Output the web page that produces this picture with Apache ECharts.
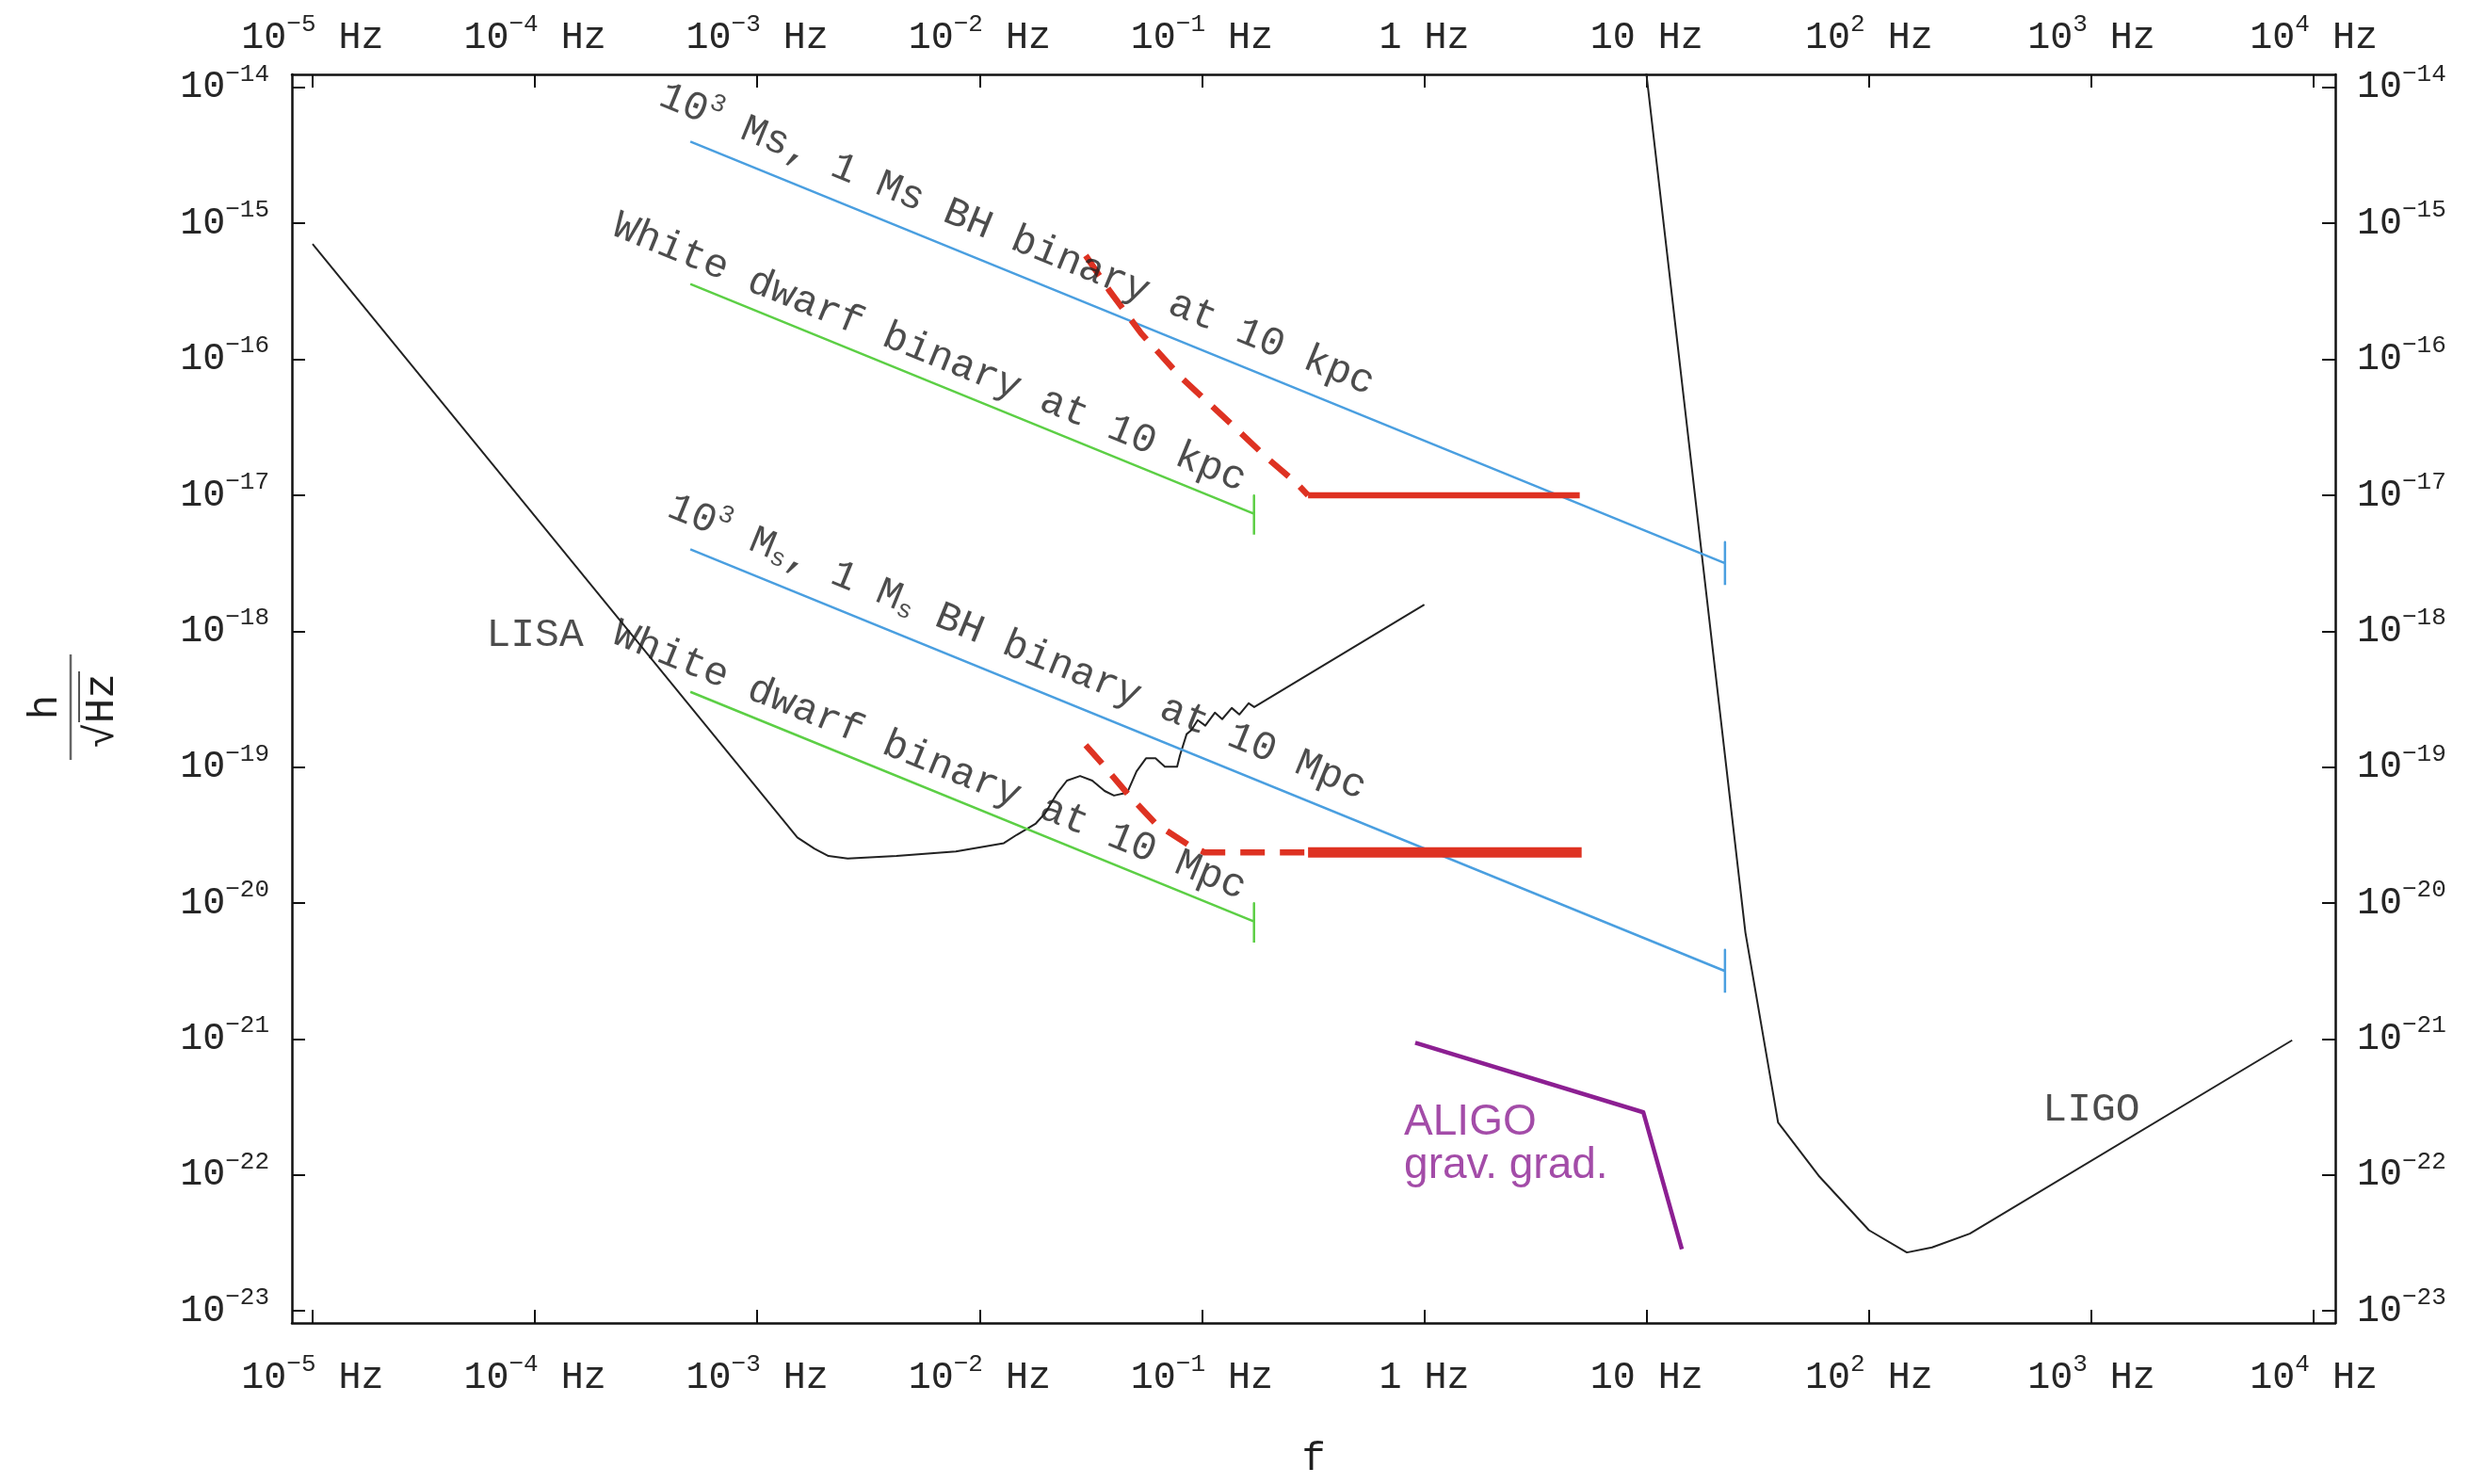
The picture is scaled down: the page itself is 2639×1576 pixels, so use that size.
<!DOCTYPE html>
<html>
<head>
<meta charset="utf-8">
<script src="https://cdn.jsdelivr.net/npm/echarts@6/dist/echarts.min.js"></script>
<style>
html,body{margin:0;padding:0;background:#ffffff;}
#chart{width:2639px;height:1576px;}
</style>
</head>
<body>
<div id="chart"></div>
<script>
// ---------------- DATA (frequency f in Hz, strain h/sqrt(Hz)) ----------------
const lisaCurve = [
  [1.0e-5, 7.06e-16], [1.514e-3, 3.04e-20], [1.81e-3, 2.51e-20], [2.09e-3, 2.22e-20],
  [2.55e-3, 2.13e-20], [4.23e-3, 2.22e-20], [7.82e-3, 2.40e-20], [1.285e-2, 2.76e-20],
  [1.47e-2, 3.18e-20], [1.79e-2, 3.85e-20], [1.97e-2, 4.58e-20], [2.24e-2, 6.49e-20],
  [2.47e-2, 7.96e-20], [2.83e-2, 8.61e-20], [3.21e-2, 7.96e-20], [3.65e-2, 6.68e-20],
  [4.02e-2, 6.18e-20], [4.61e-2, 6.49e-20], [5.08e-2, 9.31e-20], [5.60e-2, 1.161e-19],
  [6.18e-2, 1.161e-19], [6.81e-2, 1.007e-19], [7.73e-2, 1.007e-19], [7.96e-2, 1.219e-19],
  [8.53e-2, 1.750e-19], [8.95e-2, 1.866e-19], [9.57e-2, 2.218e-19], [0.1035, 2.018e-19],
  [0.1143, 2.518e-19], [0.1233, 2.254e-19], [0.1361, 2.723e-19], [0.1472, 2.438e-19],
  [0.1622, 2.951e-19], [0.1718, 2.767e-19], [1.0, 1.570e-18]
];
const ligoCurve = [
  [9.66, 1.97e-14], [27.8, 6.07e-21], [39.0, 2.43e-22], [59.3, 9.89e-23], [100, 3.92e-23],
  [148, 2.69e-23], [192, 2.93e-23], [284, 3.70e-23], [8000, 9.79e-22]
];
const aligoGravGrad = [[0.91, 9.4e-22], [9.66, 2.89e-22], [14.4, 2.84e-23]];

const bhBinary10kpc = [[5e-4, 4.0e-15], [22.5, 3.16e-18]];
const bhBinary10kpcCap = [[22.5, 4.52e-18], [22.5, 2.19e-18]];
const bhBinary10Mpc = [[5e-4, 4.0e-18], [22.5, 3.16e-21]];
const bhBinary10MpcCap = [[22.5, 4.52e-21], [22.5, 2.19e-21]];
const wdBinary10kpc = [[5e-4, 3.58e-16], [0.1714, 7.31e-18]];
const wdBinary10kpcCap = [[0.1714, 9.95e-18], [0.1714, 5.13e-18]];
const wdBinary10Mpc = [[5e-4, 3.58e-19], [0.1714, 7.31e-21]];
const wdBinary10MpcCap = [[0.1714, 9.95e-21], [0.1714, 5.13e-21]];

const redDashed10kpc = [[0.030, 5.8e-16], [0.0383, 3.21e-16], [0.0533, 1.55e-16], [0.0804, 7.38e-17],
  [0.131, 3.52e-17], [0.197, 1.87e-17], [0.267, 1.22e-17], [0.30, 1.0e-17]];
const redSolid10kpc = [[0.30, 1.0e-17], [5.0, 1.0e-17]];
const redDashed10Mpc = [[0.030, 1.45e-19], [0.0354, 1.07e-19], [0.0466, 6.28e-20], [0.0618, 3.85e-20],
  [0.0869, 2.68e-20], [0.1026, 2.36e-20], [0.297, 2.36e-20]];
const redSolid10Mpc = [[0.30, 2.36e-20], [5.1, 2.36e-20]];

// annotation texts and their anchor points (f, h)
const slopeLabels = [
  { f: 0.01472, h: 7.6e-16, text: '10{sup|3} Ms, 1 Ms BH binary at 10 kpc' },
  { f: 5.94e-3, h: 1.114e-16, text: 'White dwarf binary at 10 kpc' },
  { f: 0.01472, h: 7.6e-19, text: '10{sup|3} M{sub|s}, 1 M{sub|s} BH binary at 10 Mpc' },
  { f: 5.94e-3, h: 1.114e-19, text: 'White dwarf binary at 10 Mpc' }
];
const plainLabels = [
  { f: 1e-4, h: 9.3e-19, text: 'LISA' },
  { f: 1000, h: 3.0e-22, text: 'LIGO' }
];
const aligoLabel = { f: 0.811, h: 1.68e-22, text: 'ALIGO\ngrav. grad.' };

// axis extents (log10 of Hz and of h)
const X_LOG_MIN = -5.093, X_LOG_MAX = 4.097;
const Y_LOG_MIN = -23.089, Y_LOG_MAX = -13.904;

// ---------------- STYLE ----------------
const MONO = '"Liberation Mono", "Courier New", monospace';
const SANS = '"Liberation Sans", Arial, sans-serif';
const TXT = '#1f1f1f';
const TICKTXT = '#262626';
const BLUE = '#4a9fe0';
const GREEN = '#5ccf45';
const RED = '#de3222';
const PURPLE = '#8c1f92';

function toLog(pts) { return pts.map(p => [Math.log10(p[0]), Math.log10(p[1])]); }
function intExp(v) { const r = Math.round(v); return Math.abs(v - r) < 1e-6 ? r : null; }
function fmtX(v) {
  const e = intExp(v);
  if (e === null) return '';
  if (e === 0) return '1 Hz';
  if (e === 1) return '10 Hz';
  return '{b|10}{s|' + (e < 0 ? '\u2212' : '') + Math.abs(e) + '} Hz';
}
function fmtY(v) {
  const e = intExp(v);
  if (e === null) return '';
  return '{b|10}{s|' + (e < 0 ? '\u2212' : '') + Math.abs(e) + '}';
}
const tickRich = {
  b: { fontFamily: MONO, fontSize: 40, color: TICKTXT },
  s: { fontFamily: MONO, fontSize: 26, color: TICKTXT, padding: [0, 0, 28, 0] }
};
function axisBase(min, max) {
  return {
    type: 'value', min: min, max: max, splitNumber: 9, minInterval: 1, maxInterval: 1,
    splitLine: { show: false },
    axisLine: { show: true, onZero: false, lineStyle: { color: '#111', width: 2.5 } },
    axisTick: { show: true, inside: true, length: 14, lineStyle: { color: '#111', width: 2 } },
    minorTick: { show: false },
    axisPointer: { show: false }
  };
}
function labelCfg(margin, fmt) {
  return { show: true, margin: margin, formatter: fmt, fontFamily: MONO, fontSize: 40, color: TICKTXT,
    lineHeight: 54, rich: tickRich, showMinLabel: false, showMaxLabel: false, hideOverlap: false };
}
function lineSeries(pts, color, width, dash, z) {
  return {
    type: 'line', data: toLog(pts), showSymbol: false, symbol: 'none', silent: true,
    animation: false, z: z || 2, clip: true,
    lineStyle: { color: color, width: width, type: dash || 'solid', cap: 'butt', join: 'round' },
    emphasis: { disabled: true }
  };
}

const slopeAngle = -22.2;
const annotRich = {
  sup: { fontFamily: MONO, fontSize: 27, color: TXT, padding: [0, 0, 26, 0] },
  sub: { fontFamily: MONO, fontSize: 27, color: TXT, padding: [18, 0, 0, 0] }
};
const labelData = [];
slopeLabels.forEach(a => labelData.push({
  value: [Math.log10(a.f), Math.log10(a.h)],
  label: { show: true, position: 'inside', rotate: slopeAngle, formatter: a.text,
    fontFamily: MONO, fontSize: 43, color: TXT, lineHeight: 50, rich: annotRich }
}));
plainLabels.forEach(a => labelData.push({
  value: [Math.log10(a.f), Math.log10(a.h)],
  label: { show: true, position: 'inside', formatter: a.text, fontFamily: MONO, fontSize: 43, color: TXT }
}));
labelData.push({
  value: [Math.log10(aligoLabel.f), Math.log10(aligoLabel.h)],
  label: { show: true, position: 'inside', align: 'left', verticalAlign: 'middle', formatter: aligoLabel.text,
    fontFamily: SANS, fontSize: 46, lineHeight: 46, color: PURPLE }
});

const chart = echarts.init(document.getElementById('chart'), null, { renderer: 'canvas' });
chart.setOption({
  backgroundColor: '#ffffff',
  animation: false,
  textStyle: { fontFamily: MONO },
  grid: { left: 310, right: 159, top: 79, bottom: 157 },
  xAxis: [
    Object.assign(axisBase(X_LOG_MIN, X_LOG_MAX), {
      position: 'bottom', axisLabel: labelCfg(31, fmtX),
      name: 'f', nameLocation: 'middle', nameGap: 124,
      nameTextStyle: { fontFamily: MONO, fontSize: 42, color: TXT }
    }),
    Object.assign(axisBase(X_LOG_MIN, X_LOG_MAX), {
      position: 'top', axisLabel: labelCfg(12, fmtX)
    })
  ],
  yAxis: [
    Object.assign(axisBase(Y_LOG_MIN, Y_LOG_MAX), { position: 'left', axisLabel: labelCfg(24, fmtY) }),
    Object.assign(axisBase(Y_LOG_MIN, Y_LOG_MAX), { position: 'right', axisLabel: labelCfg(23, fmtY) })
  ],
  graphic: [{
    type: 'group', x: 75, y: 751, rotation: Math.PI / 2, silent: true,
    children: [
      { type: 'text', x: 0, y: -27, style: { text: 'h', font: '44px ' + MONO, fill: TXT, align: 'center', verticalAlign: 'middle' } },
      { type: 'line', shape: { x1: -56, y1: 0, x2: 56, y2: 0 }, style: { stroke: '#666', lineWidth: 2.5 } },
      { type: 'text', x: -4, y: 33, style: { text: '\u221AHz', font: '44px ' + MONO, fill: TXT, align: 'center', verticalAlign: 'middle' } },
      { type: 'line', shape: { x1: -16, y1: 9, x2: 38, y2: 9 }, style: { stroke: '#555', lineWidth: 2 } }
    ]
  }],
  series: [
    lineSeries(lisaCurve, '#222', 2),
    lineSeries(ligoCurve, '#222', 2),
    lineSeries(bhBinary10kpc.concat(bhBinary10kpcCap), BLUE, 2.5),
    lineSeries(wdBinary10kpc.concat(wdBinary10kpcCap), GREEN, 2.5),
    lineSeries(bhBinary10Mpc.concat(bhBinary10MpcCap), BLUE, 2.5),
    lineSeries(wdBinary10Mpc.concat(wdBinary10MpcCap), GREEN, 2.5),
    lineSeries(redDashed10kpc, RED, 6.5, [26, 16], 4),
    lineSeries(redSolid10kpc, RED, 6.5, 'solid', 4),
    lineSeries(redDashed10Mpc, RED, 6.5, [26, 16], 4),
    lineSeries(redSolid10Mpc, RED, 11, 'solid', 4),
    lineSeries(aligoGravGrad, PURPLE, 4.5, 'solid', 4),
    {
      type: 'scatter', data: labelData, symbolSize: 1, silent: true, animation: false, z: 10,
      itemStyle: { color: 'rgba(0,0,0,0)' }, emphasis: { disabled: true }, labelLayout: { hideOverlap: false }
    }
  ]
});
</script>
</body>
</html>
